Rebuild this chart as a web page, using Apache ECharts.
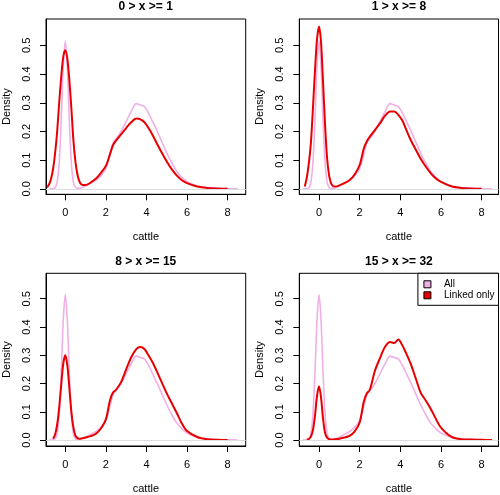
<!DOCTYPE html>
<html><head><meta charset="utf-8">
<script src="https://cdn.jsdelivr.net/npm/echarts@6/dist/echarts.min.js"></script>
<style>html,body{margin:0;padding:0;background:#fff}#c{width:500px;height:495px}</style>
</head><body><div id="c"></div>
<script>
// cattle values (x positions of the density estimates)
const cattle = [-0.9,-0.8,-0.7,-0.6,-0.5,-0.4,-0.3,-0.2,-0.1,0,0.1,0.2,0.3,0.4,0.5,0.6,0.7,0.8,1.0,1.25,1.5,1.75,2.0,2.2,2.35,2.5,2.75,3.0,3.25,3.5,3.7,3.9,4.1,4.3,4.5,4.75,5.0,5.25,5.5,5.75,6.0,6.5,7.0,7.5,8.0,8.5];
// density of all records (same in every panel)
const allDensity = [null,0.000,0.000,0.001,0.004,0.023,0.09,0.236,0.424,0.515,0.424,0.236,0.09,0.023,0.005,0.002,0.002,0.004,0.01,0.02,0.03,0.045,0.07,0.12,0.16,0.175,0.2,0.235,0.27,0.297,0.292,0.287,0.265,0.235,0.205,0.165,0.125,0.09,0.06,0.04,0.025,0.01,0.004,0.002,0.001,0.0];
// density of linked records, one per panel
const linked1 = [0.005,0.015,0.035,0.07,0.125,0.2,0.3,0.39,0.46,0.483,0.455,0.38,0.28,0.17,0.095,0.05,0.025,0.015,0.013,0.022,0.035,0.055,0.08,0.12,0.152,0.168,0.19,0.212,0.232,0.245,0.242,0.232,0.212,0.188,0.16,0.127,0.095,0.068,0.046,0.03,0.02,0.008,0.003,0.001,0.0,null];
const linked2 = [null,null,0.008,0.04,0.09,0.16,0.28,0.41,0.52,0.566,0.51,0.37,0.22,0.105,0.045,0.018,0.009,0.008,0.012,0.02,0.03,0.05,0.083,0.14,0.165,0.182,0.205,0.228,0.255,0.27,0.27,0.258,0.238,0.205,0.172,0.138,0.105,0.078,0.054,0.036,0.024,0.009,0.003,0.001,0.0,null];
const linked3 = [null,null,null,0.005,0.02,0.055,0.115,0.195,0.27,0.3,0.265,0.185,0.1,0.045,0.016,0.007,0.005,0.006,0.009,0.014,0.022,0.04,0.073,0.14,0.168,0.178,0.205,0.25,0.293,0.322,0.329,0.322,0.3,0.275,0.245,0.205,0.165,0.13,0.095,0.058,0.032,0.011,0.003,0.001,0.0,null];
const linked4 = [null,null,null,0.001,0.004,0.012,0.035,0.085,0.155,0.19,0.15,0.075,0.025,0.008,0.003,0.002,0.002,0.003,0.005,0.009,0.015,0.03,0.062,0.135,0.165,0.178,0.245,0.29,0.33,0.347,0.343,0.356,0.335,0.305,0.272,0.22,0.168,0.14,0.11,0.075,0.044,0.012,0.003,0.002,0.001,0.0];
const titles = ['0 > x >= 1','1 > x >= 8','8 > x >= 15','15 > x >= 32'];
const xTicks = [0,2,4,6,8];
const yTicks = [0,0.1,0.2,0.3,0.4,0.5];
const seriesNames = ['All','Linked only'];

const PINK = '#F0B0E6';
const RED = '#E80000';
const FONT = '"Liberation Sans", Arial, Helvetica, sans-serif';

const panels = [
  {linked: linked1, left:45.7, top:19, width:200, height:175.3, xmin:-0.95, xmax:8.89, ymin:-0.019, ymax:0.592},
  {linked: linked2, left:299.3, top:19, width:199.2, height:175.3, xmin:-0.97, xmax:8.83, ymin:-0.019, ymax:0.592},
  {linked: linked3, left:45.7, top:273.3, width:200, height:175, xmin:-0.95, xmax:8.89, ymin:-0.021, ymax:0.59},
  {linked: linked4, left:299.3, top:273.3, width:199.2, height:175, xmin:-0.97, xmax:8.83, ymin:-0.021, ymax:0.59}
];

function pairs(ys){ const out=[]; cattle.forEach((x,i)=>{ if(ys[i]!==null) out.push([x, ys[i]]); }); return out; }

const grid=[], xAxis=[], yAxis=[], series=[], title=[];
panels.forEach((p,i)=>{
  grid.push({left:p.left, top:p.top, width:p.width, height:p.height, show:true, borderColor:'#000', borderWidth:1, backgroundColor:'transparent', containLabel:false});
  xAxis.push({type:'value', gridIndex:i, min:p.xmin, max:p.xmax, position:'bottom',
    name:'cattle', nameLocation:'middle', nameGap:37,
    nameTextStyle:{fontFamily:FONT, fontSize:11, color:'#000'},
    axisLine:{show:true, onZero:false, lineStyle:{color:'#000', width:1}}, splitLine:{show:false},
    axisTick:{show:true, inside:false, length:6, customValues:xTicks, lineStyle:{color:'#000', width:1}},
    axisLabel:{show:true, customValues:xTicks, margin:13, fontFamily:FONT, fontSize:11, color:'#000', formatter:v=>String(v)}
  });
  yAxis.push({type:'value', gridIndex:i, min:p.ymin, max:p.ymax, position:'left',
    name:'Density', nameLocation:'middle', nameGap:34, nameRotate:90,
    nameTextStyle:{fontFamily:FONT, fontSize:11, color:'#000'},
    axisLine:{show:true, onZero:false, lineStyle:{color:'#000', width:1}}, splitLine:{show:false},
    axisTick:{show:true, inside:false, length:6, customValues:yTicks, lineStyle:{color:'#000', width:1}},
    axisLabel:{show:true, customValues:yTicks, rotate:90, margin:14, fontFamily:FONT, fontSize:11, color:'#000', formatter:v=>v.toFixed(1)}
  });
  title.push({text:titles[i], left:p.left+p.width/2, top:p.top-18, textAlign:'center', padding:0,
    textStyle:{fontFamily:FONT, fontSize:12, fontWeight:'bold', color:'#000'}});
  series.push({name:seriesNames[0], type:'line', xAxisIndex:i, yAxisIndex:i, data:pairs(allDensity),
    showSymbol:false, symbol:'none', smooth:0.3, clip:true, z:2,
    lineStyle:{color:PINK, width:1.6}, itemStyle:{color:PINK},
    markLine:{silent:true, symbol:'none', label:{show:false}, animation:false,
      lineStyle:{color:'#dcdde3', width:1, type:'solid'}, data:[{yAxis:0}]}
  });
  series.push({name:seriesNames[1], type:'line', xAxisIndex:i, yAxisIndex:i, data:pairs(p.linked),
    showSymbol:false, symbol:'none', smooth:0.3, clip:true, z:3,
    lineStyle:{color:RED, width:2}, itemStyle:{color:RED}
  });
});

const chart = echarts.init(document.getElementById('c'), null, {renderer:'canvas'});
chart.setOption({
  animation:false,
  backgroundColor:'#fff',
  title, grid, xAxis, yAxis, series,
  legend:{
    data:[
      {name:seriesNames[0], itemStyle:{color:PINK, borderColor:'#000', borderWidth:1}},
      {name:seriesNames[1], itemStyle:{color:RED, borderColor:'#000', borderWidth:1}}
    ],
    orient:'vertical', right:1.5, top:273.3, icon:'rect', itemWidth:7, itemHeight:7, itemGap:1,
    padding:[6,4,5,5.5], backgroundColor:'#fff', borderColor:'#000', borderWidth:1, borderRadius:0,
    selectedMode:false,
    textStyle:{fontFamily:FONT, fontSize:10, color:'#000', padding:[0,0,0,8]}
  }
});
</script>
</body></html>
